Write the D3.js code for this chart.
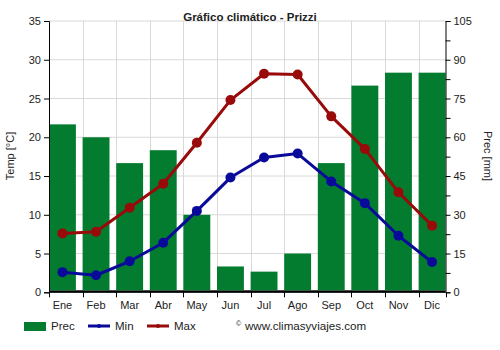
<!DOCTYPE html>
<html>
<head>
<meta charset="utf-8">
<script src="https://cdn.jsdelivr.net/npm/d3@7"></script>
<style>
body{margin:0;background:#fff;}
text{font-family:"Liberation Sans",Arial,sans-serif;}
</style>
</head>
<body>
<svg id="chart" width="500" height="350"></svg>
<script>
const months = ["Ene","Feb","Mar","Abr","May","Jun","Jul","Ago","Sep","Oct","Nov","Dic"];
const prec = [65, 60, 50, 55, 30, 10, 8, 15, 50, 80, 85, 85];
const tmin = [2.6, 2.2, 4.0, 6.4, 10.5, 14.8, 17.4, 17.9, 14.3, 11.5, 7.3, 3.9];
const tmax = [7.6, 7.8, 10.9, 14.0, 19.3, 24.8, 28.2, 28.1, 22.7, 18.5, 12.9, 8.6];
const tempTicks = [0,5,10,15,20,25,30,35];
const precTicks = [0,15,30,45,60,75,90,105];

const svg = d3.select("#chart");
const L = 49, R = 445.5, T = 21, B = 292.3;

const x = d3.scaleBand().domain(months).range([L, R]).paddingInner(0.2).paddingOuter(0);
const yT = d3.scaleLinear().domain([0,35]).range([B, T]);
const yP = d3.scaleLinear().domain([0,105]).range([B, T]);

// grid
const g = svg.append("g");
g.selectAll("line.h").data(tempTicks.slice(1)).join("line")
  .attr("x1", L).attr("x2", R).attr("y1", d=>yT(d)).attr("y2", d=>yT(d))
  .attr("stroke", "#d9d9d9").attr("stroke-width", 1);
g.selectAll("line.v").data(months.slice(1)).join("line")
  .attr("x1", d=>Math.round(x(d))+0.5).attr("x2", d=>Math.round(x(d))+0.5).attr("y1", T).attr("y2", B)
  .attr("stroke", "#d9d9d9").attr("stroke-width", 1);

// black baseline strip
svg.append("rect").attr("x", L).attr("y", B-2).attr("width", R-L).attr("height", 2).attr("fill", "#000");

// bars
svg.selectAll("rect.bar").data(months).join("rect")
  .attr("x", d=>x(d)).attr("width", x.bandwidth())
  .attr("y", (d,i)=>yP(prec[i])).attr("height", (d,i)=>B-2-yP(prec[i]))
  .attr("fill", "#037c2f");

// lines
const cx = d=>x(d)+x.bandwidth()/2;
function series(vals, color){
  const line = d3.line().x((d,i)=>cx(months[i])).y(d=>yT(d));
  svg.append("path").datum(vals).attr("d", line).attr("fill","none")
    .attr("stroke", color).attr("stroke-width", 3).attr("stroke-linejoin","round");
  svg.append("g").selectAll("circle").data(vals).join("circle")
    .attr("cx", (d,i)=>cx(months[i])).attr("cy", d=>yT(d)).attr("r", 5).attr("fill", color);
}
series(tmin, "#0a0a9a");
series(tmax, "#990a0a");

// axes
const axL = d3.axisLeft(yT).tickValues(tempTicks).tickSize(5).tickPadding(3);
const gl = svg.append("g").attr("transform", `translate(${L},0)`).call(axL);
const axR = d3.axisRight(yP).tickValues(d3.range(0,106,7.5)).tickSize(5).tickPadding(3)
  .tickFormat(d=> d%15===0 ? d : "");
const gr = svg.append("g").attr("transform", `translate(${R},0)`).call(axR);
const tickPos = months.map(m=>x(m)).concat([R]);
const gb = svg.append("g");
gb.append("line").attr("x1", L).attr("x2", R).attr("y1", B).attr("y2", B).attr("stroke","#000");
gb.selectAll("line.t").data(tickPos).join("line")
  .attr("x1", d=>Math.round(d)+0.5).attr("x2", d=>Math.round(d)+0.5).attr("y1", B).attr("y2", B+5).attr("stroke","#000");
gb.selectAll("text").data(months).join("text")
  .attr("x", d=>cx(d)).attr("y", B+17).attr("text-anchor","middle")
  .attr("font-size", 11).attr("fill","#222").text(d=>d);

[gl, gr].forEach(a=>{
  a.select(".domain").attr("stroke","#000");
  a.selectAll(".tick line").attr("stroke","#000");
  a.selectAll(".tick text").attr("font-size", 11).attr("fill","#222")
    .attr("font-family", '"Liberation Sans",Arial,sans-serif');
});

// titles
svg.append("text").attr("x", 250).attr("y", 21).attr("text-anchor","middle")
  .attr("font-size", 11.5).attr("font-weight","bold").attr("fill","#222").text("Gráfico climático - Prizzi");
svg.append("text").attr("transform", `translate(14,156) rotate(-90)`).attr("text-anchor","middle")
  .attr("font-size", 11).attr("fill","#222").text("Temp [°C]");
svg.append("text").attr("transform", `translate(484,156) rotate(90)`).attr("text-anchor","middle")
  .attr("font-size", 11).attr("fill","#222").text("Prec [mm]");

// legend
const lg = svg.append("g");
lg.append("rect").attr("x", 24).attr("y", 322).attr("width", 22).attr("height", 9).attr("fill", "#037c2f");
lg.append("text").attr("x", 51).attr("y", 330).attr("font-size", 11.5).attr("fill","#222").text("Prec");
lg.append("line").attr("x1", 88).attr("x2", 110).attr("y1", 326).attr("y2", 326).attr("stroke","#0a0a9a").attr("stroke-width",3);
lg.append("circle").attr("cx", 99).attr("cy", 326).attr("r", 2).attr("fill","#0a0a9a");
lg.append("text").attr("x", 115).attr("y", 330).attr("font-size", 11.5).attr("fill","#222").text("Min");
lg.append("line").attr("x1", 147).attr("x2", 169).attr("y1", 326).attr("y2", 326).attr("stroke","#990a0a").attr("stroke-width",3);
lg.append("circle").attr("cx", 158).attr("cy", 326).attr("r", 2).attr("fill","#990a0a");
lg.append("text").attr("x", 174).attr("y", 330).attr("font-size", 11.5).attr("fill","#222").text("Max");
lg.append("text").attr("x", 236).attr("y", 326).attr("font-size", 7).attr("fill","#222").text("©");
lg.append("text").attr("x", 245).attr("y", 330).attr("font-size", 11.6).attr("fill","#222").text("www.climasyviajes.com");
</script>
</body>
</html>
